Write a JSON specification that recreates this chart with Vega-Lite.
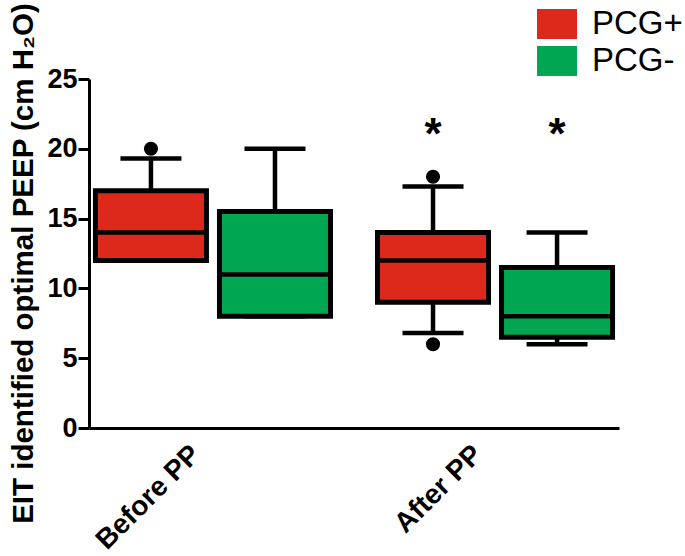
{
  "$schema": "https://vega.github.io/schema/vega-lite/v6.json",
  "width": 530,
  "height": 349,
  "autosize": {"type": "none"},
  "padding": {"left": 89, "top": 79, "right": 66, "bottom": 128},
  "background": "white",
  "config": {"font": "Liberation Sans", "view": {"stroke": null}, "axis": {"grid": false}},
  "datasets": {
    "boxes": [
      {"phase": "Before PP", "pcg": "PCG+", "lower": 12, "q1": 12, "median": 14, "q3": 17, "upper": 19.3},
      {"phase": "Before PP", "pcg": "PCG-", "lower": 8, "q1": 8, "median": 11, "q3": 15.5, "upper": 20},
      {"phase": "After PP", "pcg": "PCG+", "lower": 6.8, "q1": 9, "median": 12, "q3": 14, "upper": 17.3},
      {"phase": "After PP", "pcg": "PCG-", "lower": 6, "q1": 6.5, "median": 8, "q3": 11.5, "upper": 14}
    ],
    "outliers": [
      {"phase": "Before PP", "pcg": "PCG+", "value": 20},
      {"phase": "After PP", "pcg": "PCG+", "value": 18},
      {"phase": "After PP", "pcg": "PCG+", "value": 6}
    ],
    "stars": [
      {"phase": "After PP", "pcg": "PCG+", "value": 22, "label": "*"},
      {"phase": "After PP", "pcg": "PCG-", "value": 22, "label": "*"}
    ]
  },
  "encoding": {
    "x": {
      "field": "phase", "type": "nominal", "sort": ["Before PP", "After PP"],
      "scale": {"paddingInner": 0.121, "paddingOuter": 0},
      "axis": {"title": null, "ticks": false, "domainWidth": 3, "domainColor": "black",
        "labelAngle": -45, "labelAlign": "right", "labelBaseline": "middle",
        "labelFontSize": 28, "labelFontWeight": "bold", "labelColor": "black", "labelPadding": 22,
        "labelOffset": -17}
    },
    "xOffset": {
      "field": "pcg", "type": "nominal", "sort": ["PCG+", "PCG-"],
      "scale": {"paddingInner": 0.105, "paddingOuter": 0.052}
    }
  },
  "layer": [
    {
      "data": {"name": "boxes"},
      "mark": {"type": "rule", "color": "black", "strokeWidth": 4.5, "opacity": 1},
      "encoding": {
        "y": {"field": "lower", "type": "quantitative",
          "scale": {"domain": [0, 25], "nice": false},
          "axis": {"values": [0, 5, 10, 15, 20, 25], "tickSize": 11, "tickWidth": 3, "domainWidth": 3,
            "domainColor": "black", "tickColor": "black", "labelFontSize": 27, "labelFontWeight": "bold",
            "labelColor": "black", "labelPadding": 1,
            "title": "EIT identified optimal PEEP (cm H₂O)", "titleFontSize": 29.5, "titleFontWeight": "bold",
            "titleColor": "black", "titleX": -57, "titleY": 184, "titleAngle": -90,
            "titleAlign": "center", "titleBaseline": "alphabetic"}},
        "y2": {"field": "upper"}
      }
    },
    {
      "data": {"name": "boxes"},
      "mark": {"type": "bar", "stroke": "black", "strokeWidth": 5, "opacity": 1},
      "encoding": {
        "y": {"field": "q1", "type": "quantitative"},
        "y2": {"field": "q3"},
        "color": {"field": "pcg", "type": "nominal",
          "scale": {"domain": ["PCG+", "PCG-"], "range": ["#DD291B", "#00A651"]},
          "legend": {"orient": "none", "legendX": 448, "legendY": -75, "title": null,
            "symbolType": "M-1,-0.75H1V0.75H-1Z", "symbolSize": 1600, "symbolStrokeWidth": 0,
            "symbolOpacity": 1,
            "labelFontSize": 33, "labelOffset": 15, "rowPadding": 0, "padding": 0, "labelColor": "black"}}
      }
    },
    {
      "data": {"name": "boxes"},
      "mark": {"type": "tick", "color": "black", "size": 111, "thickness": 4.5, "opacity": 1},
      "encoding": {"y": {"field": "median", "type": "quantitative"}}
    },
    {
      "data": {"name": "boxes"},
      "mark": {"type": "tick", "color": "black", "size": 61, "thickness": 4.5, "opacity": 1},
      "encoding": {"y": {"field": "upper", "type": "quantitative"}}
    },
    {
      "data": {"name": "boxes"},
      "mark": {"type": "tick", "color": "black", "size": 61, "thickness": 4.5, "opacity": 1},
      "encoding": {"y": {"field": "lower", "type": "quantitative"}}
    },
    {
      "data": {"name": "outliers"},
      "mark": {"type": "point", "filled": true, "color": "black", "size": 200, "opacity": 1},
      "encoding": {"y": {"field": "value", "type": "quantitative"}}
    },
    {
      "data": {"name": "stars"},
      "mark": {"type": "text", "fontSize": 44, "fontWeight": "bold", "color": "black", "baseline": "alphabetic", "dy": 28},
      "encoding": {"y": {"field": "value", "type": "quantitative"}, "text": {"field": "label"}}
    }
  ]
}
